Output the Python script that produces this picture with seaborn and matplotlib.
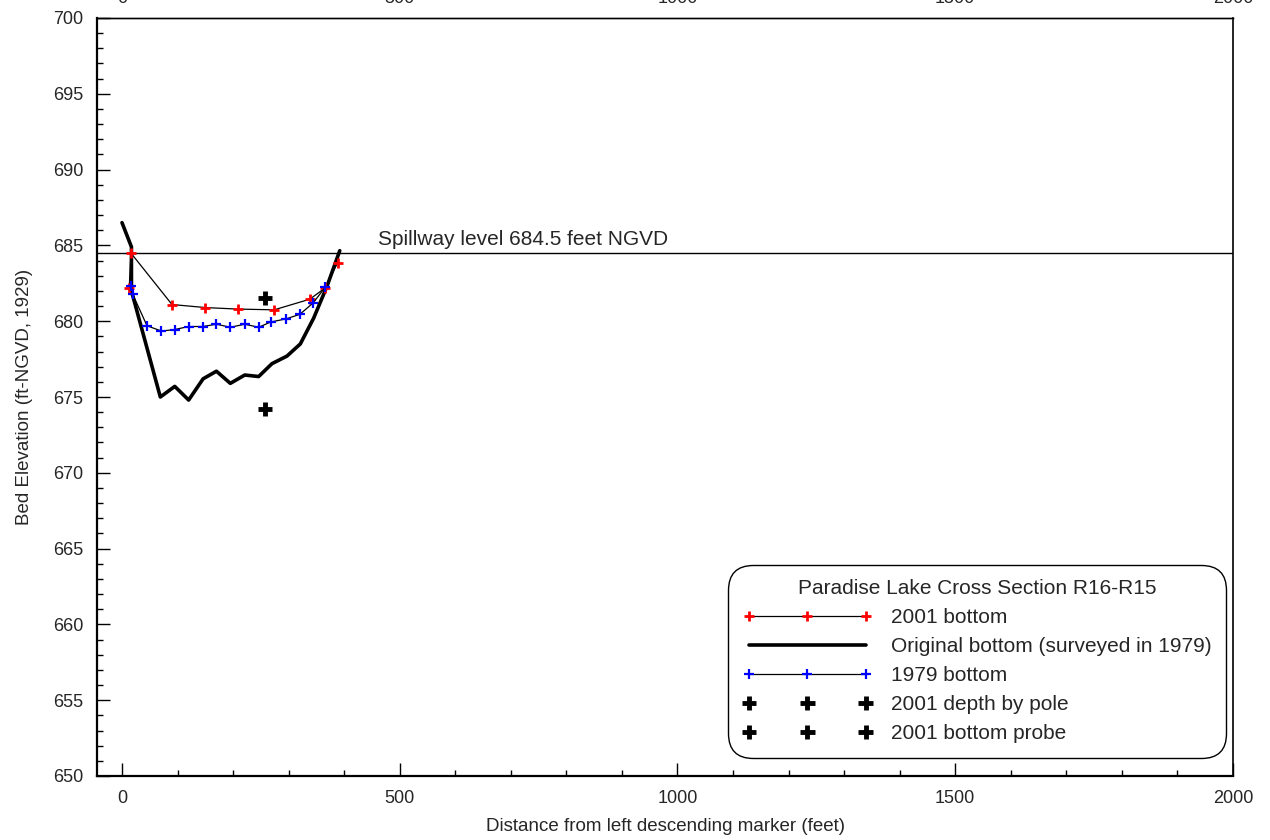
import numpy as np
import pandas as pd
import matplotlib
matplotlib.use("Agg")
import matplotlib.pyplot as plt
from matplotlib.ticker import MultipleLocator
import seaborn as sns

# ---- data ----
orig_x = [0, 17, 17, 69, 95, 120, 146, 170, 195, 221, 246, 270, 297, 321, 345, 369, 392]
orig_y = [686.5, 684.9, 682.0, 675.0, 675.7, 674.8, 676.2, 676.7, 675.9, 676.45,
          676.35, 677.2, 677.7, 678.5, 680.2, 682.3, 684.65]

b2001_x = [13, 16, 90, 150, 208, 274, 338, 366, 388]
b2001_y = [682.2, 684.5, 681.1, 680.9, 680.8, 680.75, 681.45, 682.2, 683.85]

b1979_x = [17, 19, 45, 71, 95, 120, 146, 170, 195, 221, 246, 268, 295, 320, 344, 366]
b1979_y = [682.3, 681.8, 679.7, 679.35, 679.45, 679.65, 679.65, 679.8, 679.6, 679.8,
           679.6, 679.95, 680.15, 680.45, 681.2, 682.25]

pole_x = [258]
pole_y = [681.5]
probe_x = [258]
probe_y = [674.2]

SPILLWAY = 684.5

orig = pd.DataFrame({"x": orig_x, "y": orig_y})
b2001 = pd.DataFrame({"x": b2001_x, "y": b2001_y})
b1979 = pd.DataFrame({"x": b1979_x, "y": b1979_y})
pole = pd.DataFrame({"x": pole_x, "y": pole_y})
probe = pd.DataFrame({"x": probe_x, "y": probe_y})

# ---- style ----
sns.set_style("ticks")
plt.rcParams["font.family"] = ["Liberation Sans", "DejaVu Sans"]
plt.rcParams["font.size"] = 12

fig = plt.figure(figsize=(12.7, 8.4), dpi=100)
ax = fig.add_axes([97 / 1270, 64 / 840, 1136 / 1270, 758 / 840])

# spillway level
ax.axhline(SPILLWAY, color="black", lw=1.0, zorder=1)
ax.text(460, SPILLWAY + 0.25, "Spillway level 684.5 feet NGVD",
        ha="left", va="bottom", fontsize=15)

sns.lineplot(data=b2001, x="x", y="y", ax=ax, sort=False, estimator=None,
             color="black", lw=0.9, marker="+", markersize=7, mew=2,
             mec="red", label="2001 bottom", zorder=3)
sns.lineplot(data=orig, x="x", y="y", ax=ax, sort=False, estimator=None,
             color="black", lw=2.6, label="Original bottom (surveyed in 1979)", zorder=2)
sns.lineplot(data=b1979, x="x", y="y", ax=ax, sort=False, estimator=None,
             color="black", lw=0.9, marker="+", markersize=7, mew=1.6,
             mec="blue", label="1979 bottom", zorder=4)
sns.scatterplot(data=pole, x="x", y="y", ax=ax, marker="+", s=110,
                linewidth=3.5, color="black", label="2001 depth by pole", zorder=5)
sns.scatterplot(data=probe, x="x", y="y", ax=ax, marker="+", s=110,
                linewidth=3.5, color="black", label="2001 bottom probe", zorder=5)

ax.set_xlim(-45, 2000)
ax.set_ylim(650, 700)
ax.xaxis.set_major_locator(MultipleLocator(500))
ax.xaxis.set_minor_locator(MultipleLocator(100))
ax.yaxis.set_major_locator(MultipleLocator(5))
ax.yaxis.set_minor_locator(MultipleLocator(1))

ax.tick_params(which="both", direction="in", top=False, right=False,
               labelsize=13, pad=10, width=1.0, color="black")
ax.tick_params(which="major", length=9.5)
ax.tick_params(which="minor", length=4.5)

# top tick labels, mostly cut off by the figure edge as in the original
top = ax.secondary_xaxis("top")
top.xaxis.set_major_locator(MultipleLocator(500))
top.tick_params(which="both", length=0, labelsize=13, pad=8)

for side in ["left", "bottom", "right", "top"]:
    ax.spines[side].set_visible(True)
    ax.spines[side].set_color("black")
ax.spines["left"].set_linewidth(1.6)
ax.spines["bottom"].set_linewidth(1.6)
ax.spines["right"].set_linewidth(1.2)
ax.spines["top"].set_linewidth(1.0)
top.spines["top"].set_linewidth(1.0)

ax.set_xlabel("Distance from left descending marker (feet)", fontsize=13.5, labelpad=8)
ax.set_ylabel("Bed Elevation (ft-NGVD, 1929)", fontsize=13.5, labelpad=14)

leg = ax.legend(title="Paradise Lake Cross Section R16-R15", loc="lower right",
                bbox_to_anchor=(0.9938, 0.0237), numpoints=3, scatterpoints=3,
                scatteryoffsets=[0.5, 0.5, 0.5],
                handlelength=6.2, handletextpad=0.9, labelspacing=0.48,
                fontsize=15, title_fontsize=15, fancybox=True, framealpha=1,
                edgecolor="black", borderpad=0.7, borderaxespad=0)
leg.get_frame().set_linewidth(1.0)
leg.get_frame().set_boxstyle("round", pad=0, rounding_size=1.2)

fig.savefig("out.png", dpi=100)
